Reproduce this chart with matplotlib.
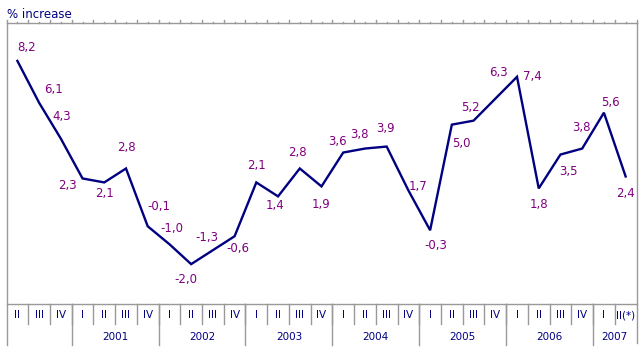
import matplotlib
matplotlib.use("Agg")
import matplotlib.pyplot as plt
import matplotlib.transforms as mtransforms

# quarterly % increase, 2000 Q2 .. 2007 Q2
quarters = ["II", "III", "IV"] + ["I", "II", "III", "IV"] * 6 + ["I", "II(*)"]
values = [8.2, 6.1, 4.3,
          2.3, 2.1, 2.8, -0.1,
          -1.0, -2.0, -1.3, -0.6,
          2.1, 1.4, 2.8, 1.9,
          3.6, 3.8, 3.9, 1.7,
          -0.3, 5.0, 5.2, 6.3,
          7.4, 1.8, 3.5, 3.8,
          5.6, 2.4]
years = ["", "2001", "2002", "2003", "2004", "2005", "2006", "2007"]
year_sizes = [3, 4, 4, 4, 4, 4, 4, 2]

# label offsets in pixels (dx right, dy down)
label_off = [(9, -13), (14, -13), (1, -22), (-15, 7), (0, 11), (0, -21), (11, -20),
             (2, -16), (-5, 15), (-6, -13), (3, 12), (0, -17), (-3, 9), (-2, -16),
             (0, 18), (-6, -11), (-6, -14), (-1, -18), (10, -4), (6, 15), (10, 19),
             (-3, -13), (3, -26), (15, 0), (0, 16), (8, 17), (-1, -21), (7, -10),
             (0, 17)]

navy = "#000080"
purple = "#800080"
gray = "#999999"
W, H = 643, 353

fig = plt.figure(figsize=(W / 100, H / 100), dpi=100)
ax = fig.add_axes([6.5 / W, (H - 304) / H, 630 / W, (304 - 23) / H])
n = len(values)
xs = [i + 0.5 for i in range(n)]
ax.plot(xs, values, color=navy, lw=1.7, solid_joinstyle="miter")
ax.set_xlim(0, n)
ax.set_ylim(-4.0, 10.1)
ax.set_xticks([])
ax.set_yticks([])
for s in ax.spines.values():
    s.set_visible(False)

for x, v, (dx, dy) in zip(xs, values, label_off):
    ax.annotate(f"{v:.1f}".replace(".", ","), (x, v), xytext=(dx, -dy),
                textcoords="offset pixels", ha="center", va="center",
                color=purple, fontsize=8.5)

tr = mtransforms.blended_transform_factory(ax.transData, ax.transAxes)
px = 1 / (304 - 23)  # one pixel in axes fraction
line_kw = dict(color=gray, lw=1.0, clip_on=False, transform=tr)

# frame: top, bottom of plot, left and right
ax.plot([0, n], [1, 1], **line_kw)
ax.plot([0, n], [0, 0], **line_kw)
ax.plot([0, 0], [-41 * px, 1], **line_kw)
ax.plot([n, n], [-39 * px, 1], **line_kw)

# small ticks along the top
for k in range(n + 1):
    ax.plot([k, k], [1, 1 + 3 * px], **line_kw)
    if k < n:
        ax.plot([k + 0.5, k + 0.5], [1, 1 + 1.5 * px], **line_kw)

# quarter row
for i, q in enumerate(quarters):
    ax.text(i + 0.5, -11 * px, q, transform=tr, ha="center", va="center",
            color=navy, fontsize=7.5, clip_on=False)
    if i > 0:
        ax.plot([i, i], [-20 * px, 0], **line_kw)

# year row
start = 0
for y, size in zip(years, year_sizes):
    if y:
        ax.text(start + size / 2, -33 * px, y, transform=tr, ha="center",
                va="center", color=navy, fontsize=7.5, clip_on=False)
    if start > 0:
        ax.plot([start, start], [-41 * px, 0], **line_kw)
    start += size

fig.text(7 / W, 1 - 15 / H, "% increase", color=navy, fontsize=8.5,
         ha="left", va="center")

fig.savefig("out.png", dpi=100)
